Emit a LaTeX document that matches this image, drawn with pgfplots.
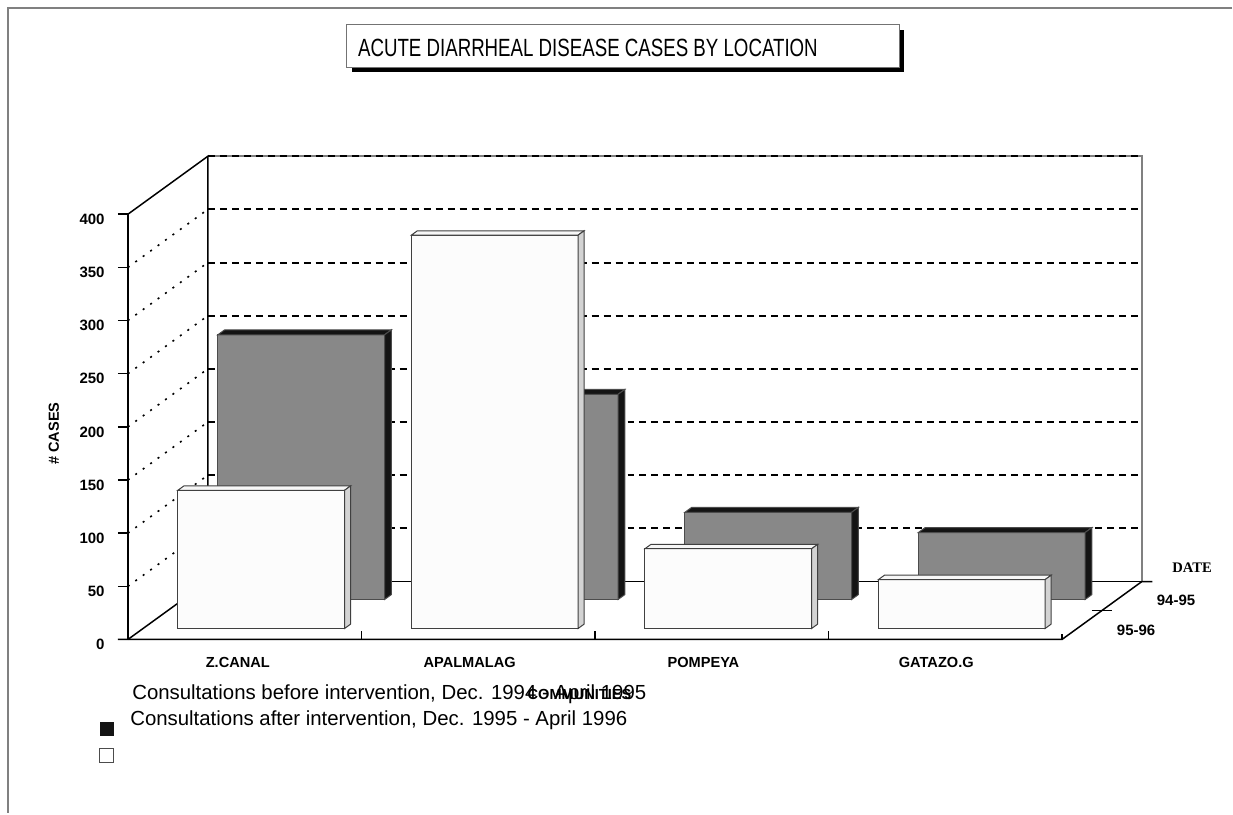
\documentclass[border=0pt]{standalone}
\usepackage{graphicx}
\usepackage{pgfplots}
\pgfplotsset{compat=1.18}
\usepackage{pgfplotstable}
\usepackage{fontspec}
\setmainfont{Liberation Sans}
\newfontfamily\serifbf{Liberation Serif}

\definecolor{gfront}{RGB}{136,136,136}
\definecolor{gdark}{RGB}{20,20,20}
\definecolor{wfront}{RGB}{252,252,252}
\definecolor{wtop}{RGB}{247,247,247}
\definecolor{wside}{RGB}{211,211,211}
\definecolor{framegray}{RGB}{128,128,128}

% Acute diarrheal disease cases: 94-95 (before), 95-96 (after)
\pgfplotstableread{
idx before after
0 249 130
1 193 370
2 82 75
3 63 46
}\cases

\newcommand\lbl[1]{\fontsize{#1}{#1}\selectfont}

\begin{document}
\begin{tikzpicture}
\begin{axis}[
  x={(116.85pt,0pt)}, y={(40pt,29pt)}, z={(0pt,0.532pt)},
  xmin=0, xmax=4, ymin=0, ymax=1, zmin=0, zmax=400,
  hide axis, clip=false,
  every axis plot/.append style={no markers, line join=miter},
]
% ---- walls and grid ----
\pgfplotsinvokeforeach{50,100,...,350}{
  \addplot3[black, line width=1pt, dash pattern=on 3.5pt off 2.5pt] coordinates {(0,1,#1) (4,1,#1)};
  \addplot3[black, line width=0.8pt, dash pattern=on 1pt off 3.6pt] coordinates {(0,0,#1) (0,1,#1)};
}
\addplot3[framegray, line width=0.8pt] coordinates {(0,1,400) (4,1,400) (4,1,0)};
\addplot3[black, line width=1pt, dash pattern=on 3.5pt off 2.5pt] coordinates {(0,1,400) (4,1,400)};
\addplot3[black, line width=0.75pt] coordinates {(0,0,400) (0,1,400) (0,1,0)};
\addplot3[black, line width=0.75pt] coordinates {(0,1,0) (4,1,0)};
\addplot3[black, line width=0.75pt] coordinates {(0,0,0) (0,1,0)};
% front axis and floor
\addplot3[black, line width=0.75pt] coordinates {(0,0,400) (0,0,0)};
\addplot3[black, line width=0.75pt] coordinates {(-0.0428,0,0) (4,0,0) (4,1,0) (4.045,1,0)};
\pgfplotsinvokeforeach{50,100,...,400}{
  \addplot3[black, line width=0.75pt] coordinates {(-0.0428,0,#1) (0,0,#1)};
}
\pgfplotsinvokeforeach{1,2,3}{
  \addplot3[black, line width=0.75pt] coordinates {(#1,0,0) (#1,0,8)};
}
\addplot3[black, line width=0.75pt] coordinates {(4,0,0) (4,0,5)};
\addplot3[black, line width=0.75pt] coordinates {(3.957,0.5,0) (4.043,0.5,0)};
% ---- bars 94-95 (back row, grey) ----
\pgfplotsinvokeforeach{0,1,2,3}{
  \pgfplotstablegetelem{#1}{before}\of\cases
  \let\val\pgfplotsretval
  \pgfmathsetmacro\xa{#1+0.149}
  \pgfmathsetmacro\xb{#1+0.863}
  \edef\temp{%
    \noexpand\addplot3[fill=gfront, draw=black!70, line width=0.5pt] coordinates {(\xa,0.69,0) (\xb,0.69,0) (\xb,0.69,\val) (\xa,0.69,\val)} -- cycle;
    \noexpand\addplot3[fill=gdark, draw=black!70, line width=0.5pt] coordinates {(\xa,0.69,\val) (\xb,0.69,\val) (\xb,0.775,\val) (\xa,0.775,\val)} -- cycle;
    \noexpand\addplot3[fill=gdark, draw=black!70, line width=0.5pt] coordinates {(\xb,0.69,0) (\xb,0.775,0) (\xb,0.775,\val) (\xb,0.69,\val)} -- cycle;
  }%
  \temp
}
% ---- bars 95-96 (front row, white) ----
\pgfplotsinvokeforeach{0,1,2,3}{
  \pgfplotstablegetelem{#1}{after}\of\cases
  \let\val\pgfplotsretval
  \pgfmathsetmacro\xa{#1+0.149}
  \pgfmathsetmacro\xb{#1+0.863}
  \edef\temp{%
    \noexpand\addplot3[fill=wfront, draw=black!75, line width=0.5pt] coordinates {(\xa,0.19,0) (\xb,0.19,0) (\xb,0.19,\val) (\xa,0.19,\val)} -- cycle;
    \noexpand\addplot3[fill=wtop, draw=black!75, line width=0.5pt] coordinates {(\xa,0.19,\val) (\xb,0.19,\val) (\xb,0.265,\val) (\xa,0.265,\val)} -- cycle;
    \noexpand\addplot3[fill=wside, draw=black!75, line width=0.5pt] coordinates {(\xb,0.19,0) (\xb,0.265,0) (\xb,0.265,\val) (\xb,0.19,\val)} -- cycle;
  }%
  \temp
}
\coordinate (O) at (axis cs:0,0,0);
\end{axis}

% pixel-based overlay: (px,py) of the 1233x814 reference
\begin{scope}[shift={(O)}, xshift=-64pt, yshift=320pt, x=0.5pt, y=-0.5pt]
\pgfresetboundingbox
\path (0,0) rectangle (1233,814);
% frame
\draw[framegray, line width=1pt] (1233,8) -- (8,8) -- (8,814);
% title box
\fill[black] (352,30) rectangle (904.5,72.5);
\draw[fill=white, draw=black!55, line width=0.5pt] (347,25) rectangle (900,68);
\node[anchor=base west, inner sep=0] at (358,56.7) {\resizebox{230pt}{8.7pt}{ACUTE DIARRHEAL DISEASE CASES BY LOCATION}};
% y tick labels
\foreach \v in {0,50,...,400} {
  \node[anchor=east, inner sep=0, font=\lbl{7.5pt}\bfseries] at (105,{645-1.064*\v}) {\v};
}
\node[rotate=90, inner sep=0, font=\lbl{7.3pt}\bfseries] at (54,434) {\# CASES};
% category labels
\node[inner sep=0, font=\lbl{7.3pt}\bfseries] at (238,663) {Z.CANAL};
\node[inner sep=0, font=\lbl{7.3pt}\bfseries] at (470,663) {APALMALAG};
\node[inner sep=0, font=\lbl{7.3pt}\bfseries] at (704,663) {POMPEYA};
\node[inner sep=0, font=\lbl{7.3pt}\bfseries] at (937,663) {GATAZO.G};
% depth labels
\node[inner sep=0, font=\serifbf\lbl{7.3pt}\bfseries] at (1193,568) {DATE};
\node[inner sep=0, font=\lbl{7.5pt}\bfseries] at (1177,601) {94-95};
\node[inner sep=0, font=\lbl{7.5pt}\bfseries] at (1137,631) {95-96};
% legend
\node[anchor=base west, inner sep=0, font=\lbl{10.2pt}] at (132,700) {Consultations before intervention, Dec. 1994 - April 1995};
\node[anchor=base west, inner sep=0, font=\lbl{10.2pt}] at (130,726) {Consultations after intervention, Dec. 1995 - April 1996};
\node[anchor=base, inner sep=0, font=\lbl{7.3pt}\bfseries] at (580,700) {COMMUNITIES};
\fill[black!92] (100,723) rectangle (114,737);
\draw[black!70, fill=white, line width=0.5pt] (100,749) rectangle (114,763);
\end{scope}
\end{tikzpicture}
\end{document}
